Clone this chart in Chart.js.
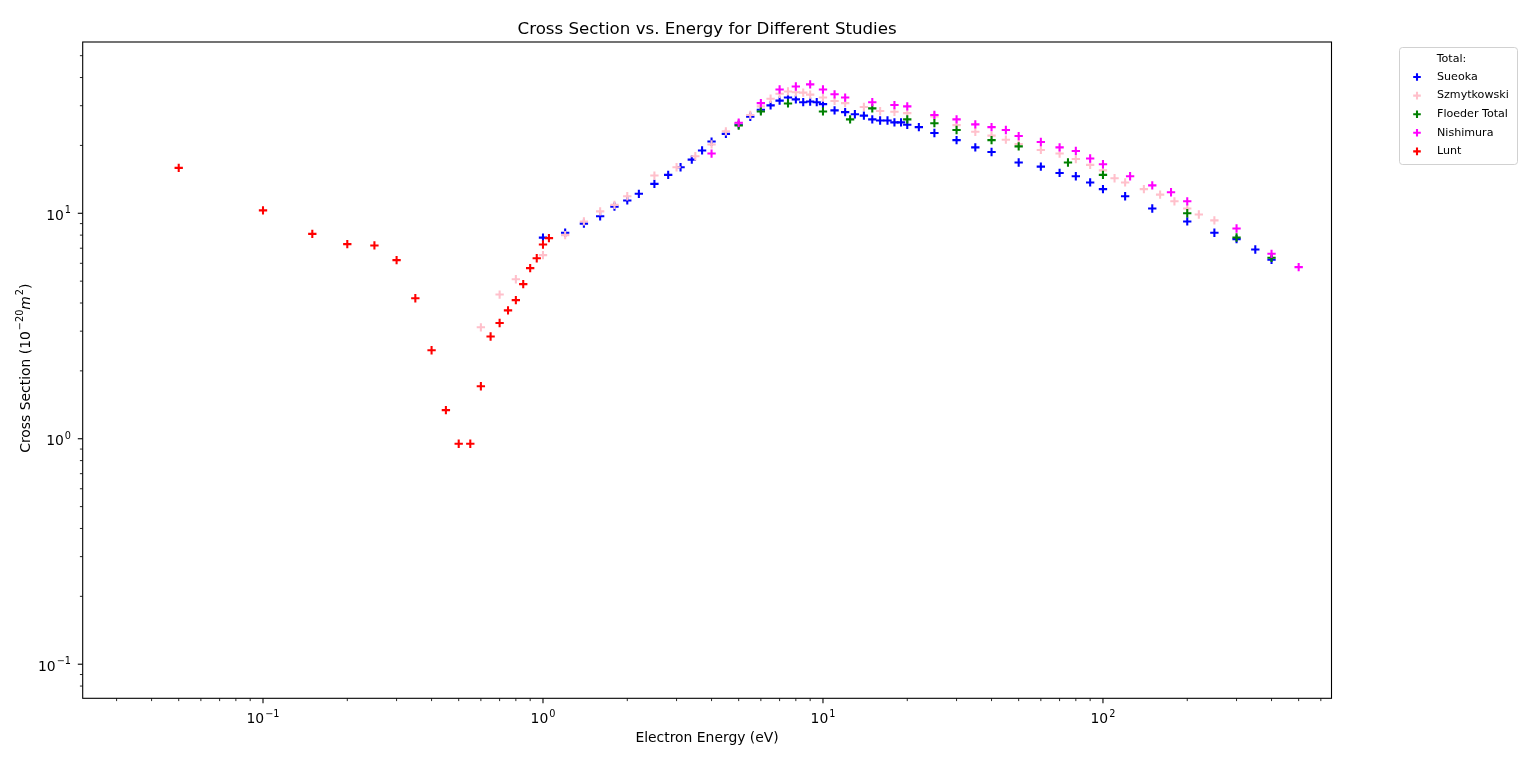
<!DOCTYPE html>
<html><head><meta charset="utf-8">
<script src="https://cdn.jsdelivr.net/npm/chart.js@4.4.1/dist/chart.umd.min.js"></script>
<style>html,body{margin:0;padding:0;background:#fff}canvas{display:block}</style>
</head><body>
<canvas id="c" width="1536" height="762"></canvas>
<script>
// ---- data (energy in eV, cross section in 1e-20 m^2) ----
const sueokaE = [1.0,1.2,1.4,1.6,1.8,2.0,2.2,2.5,2.8,3.1,3.4,3.7,4.0,4.5,5.0,5.5,6.0,6.5,7.0,7.5,8.0,8.5,9.0,9.5,10,11,12,13,14,15,16,17,18,19,20,22,25,30,35,40,50,60,70,80,90,100,120,150,200,250,300,350,400];
const sueokaS = [7.8,8.2,9.0,9.7,10.7,11.4,12.2,13.5,14.8,16.0,17.3,19.0,20.8,22.5,24.8,26.8,28.8,30.1,31.6,32.6,32.0,31.1,31.3,31.1,30.5,28.6,28.1,27.5,27.1,26.1,25.8,25.8,25.3,25.3,24.7,24.1,22.7,21.1,19.6,18.7,16.8,16.1,15.1,14.6,13.7,12.8,11.9,10.5,9.2,8.2,7.68,6.91,6.22];

const szmytE = [0.6,0.7,0.8,1.0,1.2,1.4,1.6,1.8,2.0,2.5,3.0,3.5,4.0,4.5,5.0,5.5,6.0,6.5,7.0,7.5,8.0,8.5,9.0,10,11,12,14,16,18,20,25,30,35,40,45,50,60,70,80,90,100,110,120,140,160,180,200,220,250];
const szmytS = [3.12,4.36,5.1,6.52,8.0,9.2,10.2,10.9,11.9,14.7,16.0,17.9,20.2,23.1,25.1,27.3,29.8,32.2,33.9,34.7,34.4,34.3,33.6,32.6,31.5,30.8,29.6,28.4,28.2,27.8,26.9,24.6,23.0,22.1,21.2,20.3,19.1,18.4,17.4,16.4,15.5,14.3,13.7,12.8,12.1,11.3,10.5,9.88,9.3];

const floederE = [5.0,6.0,7.5,10,12.5,15,20,25,30,40,50,75,100,200,300,400];
const floederS = [24.5,28.3,30.7,28.3,26.1,29.2,26.1,25.1,23.4,21.1,19.8,16.8,14.8,10.0,7.81,6.35];

const nishiE = [4,5,6,7,8,9,10,11,12,15,18,20,25,30,35,40,45,50,60,70,80,90,100,125,150,175,200,300,400,500];
const nishiS = [18.4,25.2,30.8,35.4,36.5,37.3,35.4,33.7,32.6,31.1,30.2,29.8,27.3,26.1,24.8,24.1,23.4,22.0,20.7,19.6,18.9,17.5,16.5,14.6,13.3,12.4,11.3,8.56,6.61,5.77];

const luntE = [0.05,0.1,0.15,0.2,0.25,0.3,0.35,0.4,0.45,0.5,0.55,0.6,0.65,0.7,0.75,0.8,0.85,0.9,0.95,1.0,1.05];
const luntS = [15.9,10.3,8.1,7.3,7.2,6.2,4.2,2.47,1.34,0.95,0.95,1.71,2.84,3.26,3.71,4.12,4.85,5.71,6.32,7.27,7.76];

const seriesNames = ['Sueoka','Szmytkowski','Floeder Total','Nishimura','Lunt'];
const legendTitle = 'Total:';
const chartTitle = 'Cross Section vs. Energy for Different Studies';
const xTitle = 'Electron Energy (eV)';
// y title pieces: [text, style]  (n = normal, s = superscript, i = italic)
const yTitleParts = [['Cross Section (10','n'],['\u221220','s'],['m','i'],['2','s'],[')','n']];
const xMajorTicks = [0.1, 1, 10, 100];
const yMajorTicks = [0.1, 1, 10];

const colors = ['#0000ff','#ffc0cb','#008000','#ff00ff','#ff0000'];
const FONT = '"DejaVu Sans"';
const F_NORMAL = '13.9px ' + FONT;
const F_SUP = '9.73px ' + FONT;
const F_ITAL = 'oblique 13.9px ' + FONT;

const pts = (xs, ys) => xs.map((x, i) => ({x: x, y: ys[i]}));
const allData = [pts(sueokaE,sueokaS), pts(szmytE,szmytS), pts(floederE,floederS), pts(nishiE,nishiS), pts(luntE,luntS)];

function expOf(v){ return Math.round(Math.log10(v)); }
function expStr(e){ return e < 0 ? '\u2212' + Math.abs(e) : String(e); }

function minorTicks(min, max){
  const out = [];
  for (let e = -3; e <= 3; e++) {
    for (let m = 1; m <= 9; m++) {
      const v = m * Math.pow(10, e);
      if (v >= min && v <= max) out.push({v: v, major: m === 1});
    }
  }
  return out;
}

// draw a sequence of text parts starting at x (baseline y), returns width if measureOnly
function partsWidth(ctx, parts){
  let w = 0;
  parts.forEach(p => {
    ctx.font = p[1] === 's' ? F_SUP : (p[1] === 'i' ? F_ITAL : F_NORMAL);
    w += ctx.measureText(p[0]).width + (p[1] === 's' ? 1 : 0);
  });
  return w;
}
function drawParts(ctx, parts, x, y){
  ctx.textAlign = 'left';
  ctx.textBaseline = 'alphabetic';
  parts.forEach(p => {
    const sup = p[1] === 's';
    ctx.font = sup ? F_SUP : (p[1] === 'i' ? F_ITAL : F_NORMAL);
    if (sup) x += 1;
    ctx.fillText(p[0], x, sup ? y - 6.3 : y);
    x += ctx.measureText(p[0]).width;
  });
}

const framePlugin = {
  id: 'frame',
  afterDraw(chart) {
    const ctx = chart.ctx, a = chart.chartArea;
    const xs = chart.scales.x, ys = chart.scales.y;
    ctx.save();
    ctx.strokeStyle = '#000';
    // tick marks
    minorTicks(xs.min, xs.max).forEach(t => {
      const px = xs.getPixelForValue(t.v);
      ctx.lineWidth = t.major ? 1.1 : 0.85;
      ctx.beginPath(); ctx.moveTo(px, a.bottom); ctx.lineTo(px, a.bottom + (t.major ? 4.9 : 2.8)); ctx.stroke();
    });
    minorTicks(ys.min, ys.max).forEach(t => {
      const py = ys.getPixelForValue(t.v);
      ctx.lineWidth = t.major ? 1.1 : 0.85;
      ctx.beginPath(); ctx.moveTo(a.left, py); ctx.lineTo(a.left - (t.major ? 4.9 : 2.8), py); ctx.stroke();
    });
    // frame
    ctx.lineWidth = 1.1;
    ctx.strokeRect(a.left, a.top, a.right - a.left, a.bottom - a.top);

    ctx.fillStyle = '#000';
    // tick labels (10^n) from the scales' own ticks
    xs.ticks.forEach(t => {
      const parts = [['10','n'],[expStr(expOf(t.value)),'s']];
      const w = partsWidth(ctx, parts);
      drawParts(ctx, parts, xs.getPixelForValue(t.value) - w / 2, 723.3);
    });
    ys.ticks.forEach(t => {
      const parts = [['10','n'],[expStr(expOf(t.value)),'s']];
      const w = partsWidth(ctx, parts);
      drawParts(ctx, parts, 71 - w, ys.getPixelForValue(t.value) + 6.5);
    });
    // y axis title (rotated)
    ctx.save();
    ctx.translate(29.5, (a.top + a.bottom) / 2 - 2);
    ctx.rotate(-Math.PI / 2);
    const tw = partsWidth(ctx, yTitleParts);
    drawParts(ctx, yTitleParts, -tw / 2, 0);
    ctx.restore();

    // chart title
    ctx.font = '16.67px ' + FONT;
    ctx.textAlign = 'center';
    ctx.textBaseline = 'alphabetic';
    ctx.fillText(chartTitle, (a.left + a.right) / 2, 34);

    // legend
    const lx = 1399.5, ly = 47.5, lw = 118, lh = 117;
    ctx.fillStyle = 'rgba(255,255,255,0.8)';
    ctx.strokeStyle = 'rgba(204,204,204,0.9)';
    ctx.lineWidth = 1;
    ctx.beginPath();
    if (ctx.roundRect) ctx.roundRect(lx, ly, lw, lh, 3); else ctx.rect(lx, ly, lw, lh);
    ctx.fill(); ctx.stroke();
    ctx.fillStyle = '#000';
    ctx.font = '11.1px ' + FONT;
    ctx.textBaseline = 'middle';
    ctx.textAlign = 'center';
    ctx.fillText(legendTitle, 1451.5, 59);
    ctx.textAlign = 'left';
    chart.data.datasets.forEach((ds, i) => {
      const cy = 77 + i * 18.6;
      ctx.strokeStyle = ds.borderColor;
      ctx.lineWidth = 2.08;
      ctx.beginPath();
      ctx.moveTo(1417 - 3.8, cy); ctx.lineTo(1417 + 3.8, cy);
      ctx.moveTo(1417, cy - 3.8); ctx.lineTo(1417, cy + 3.8);
      ctx.stroke();
      ctx.fillStyle = '#000';
      ctx.fillText(ds.label, 1437, cy);
    });
    ctx.restore();
  }
};

const datasets = seriesNames.map((name, i) => ({
  label: name,
  data: allData[i],
  pointStyle: 'cross',
  pointRadius: 4.17,
  pointHoverRadius: 4.17,
  pointBorderWidth: 2.08,
  pointHoverBorderWidth: 2.08,
  borderColor: colors[i],
  backgroundColor: colors[i],
  showLine: false,
  order: seriesNames.length - i
}));

new Chart(document.getElementById('c'), {
  type: 'scatter',
  data: { datasets: datasets },
  plugins: [framePlugin],
  options: {
    responsive: false,
    animation: false,
    events: [],
    layout: { padding: { left: 0, top: 42, right: 204.5, bottom: 0 } },
    plugins: { legend: { display: false }, tooltip: { enabled: false }, title: { display: false } },
    scales: {
      x: {
        type: 'logarithmic',
        position: 'bottom',
        min: 0.0227, max: 655,
        grid: { display: false, drawTicks: false },
        border: { display: false },
        afterBuildTicks: s => { s.ticks = xMajorTicks.map(v => ({ value: v, major: true })); },
        afterFit: s => { s.height = 63.7; },
        ticks: { display: false, autoSkip: false, maxRotation: 0, minRotation: 0 },
        title: { display: true, text: xTitle, color: '#000', font: { family: 'DejaVu Sans', size: 13.9 }, padding: { top: 0, bottom: 15.7 } }
      },
      y: {
        type: 'logarithmic',
        position: 'left',
        min: 0.0706, max: 57.5,
        grid: { display: false, drawTicks: false },
        border: { display: false },
        afterBuildTicks: s => { s.ticks = yMajorTicks.map(v => ({ value: v, major: true })); },
        afterFit: s => { s.width = 82.7; },
        ticks: { display: false, autoSkip: false },
        title: { display: false }
      }
    }
  }
});
</script>
</body></html>
